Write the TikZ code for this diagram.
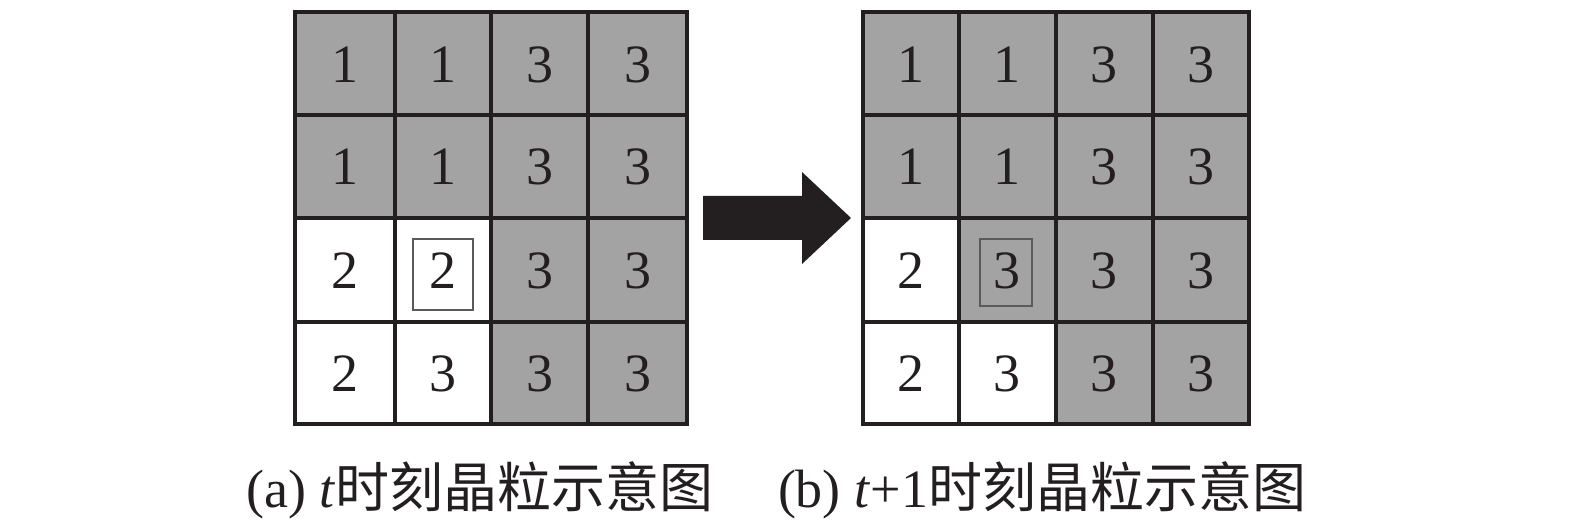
\documentclass[tikz,border=0pt]{standalone}
\usepackage{fontspec}
\setmainfont{Liberation Serif}
\newfontfamily\cjk{Noto Sans CJK SC}
\definecolor{ink}{HTML}{231F20}
\definecolor{grain}{HTML}{A3A3A3}
\definecolor{boxline}{HTML}{5A5A5A}
\tikzset{
  gridline/.style={draw=ink, line width=2pt},
  outerline/.style={draw=ink, line width=2.2pt},
  digit/.style={text=ink, font=\fontsize{27}{30}\selectfont, inner sep=0pt},
  caption/.style={text=ink, font=\fontsize{27}{30}\selectfont, anchor=base, inner sep=0pt},
  markbox/.style={draw=boxline, line width=0.8pt},
  bigarrow/.style={fill=ink, draw=none},
}
\begin{document}
\begin{tikzpicture}[x=0.5pt, y=-0.5pt]
\useasboundingbox (0,0) rectangle (1575,528);
% ---------- grid (a) ----------
\def\ax{{295,395,491,588,687}}
% fills
\fill[grain] (295,12) rectangle (687,218);
\fill[grain] (491,218) rectangle (687,424);
% small marker square (a)
\draw[markbox] (413,239) rectangle (473,310);
% lines
\draw[gridline] (395,12) -- (395,424) (491,12) -- (491,424) (588,12) -- (588,424);
\draw[gridline] (295,115) -- (687,115) (295,218) -- (687,218) (295,322) -- (687,322);
\draw[outerline] (295,12) rectangle (687,424);
% digits (a)
\node[digit] (a11) at (345,65) {1};
\node[digit] (a12) at (443,65) {1};
\node[digit] (a13) at (540,65) {3};
\node[digit] (a14) at (638,65) {3};
\node[digit] (a21) at (345,167) {1};
\node[digit] (a22) at (443,167) {1};
\node[digit] (a23) at (540,167) {3};
\node[digit] (a24) at (638,167) {3};
\node[digit] (a31) at (345,271) {2};
\node[digit] (a32) at (443,271) {2};
\node[digit] (a33) at (540,271) {3};
\node[digit] (a34) at (638,271) {3};
\node[digit] (a41) at (345,374) {2};
\node[digit] (a42) at (443,374) {3};
\node[digit] (a43) at (540,374) {3};
\node[digit] (a44) at (638,374) {3};
% ---------- arrow ----------
\fill[bigarrow] (703,196) -- (802,196) -- (802,172) -- (851,218) -- (802,264) -- (802,240) -- (703,240) -- cycle;
% ---------- grid (b) ----------
\fill[grain] (863,12) rectangle (1249,218);
\fill[grain] (959,218) rectangle (1249,322);
\fill[grain] (1056,322) rectangle (1249,424);
\draw[markbox] (980,239) rectangle (1032,306);
\draw[gridline] (959,12) -- (959,424) (1056,12) -- (1056,424) (1153,12) -- (1153,424);
\draw[gridline] (863,115) -- (1249,115) (863,218) -- (1249,218) (863,322) -- (1249,322);
\draw[outerline] (863,12) rectangle (1249,424);
\node[digit] (b11) at (911,65) {1};
\node[digit] (b12) at (1007,65) {1};
\node[digit] (b13) at (1104,65) {3};
\node[digit] (b14) at (1201,65) {3};
\node[digit] (b21) at (911,167) {1};
\node[digit] (b22) at (1007,167) {1};
\node[digit] (b23) at (1104,167) {3};
\node[digit] (b24) at (1201,167) {3};
\node[digit] (b31) at (911,271) {2};
\node[digit] (b32) at (1007,271) {3};
\node[digit] (b33) at (1104,271) {3};
\node[digit] (b34) at (1201,271) {3};
\node[digit] (b41) at (911,374) {2};
\node[digit] (b42) at (1007,374) {3};
\node[digit] (b43) at (1104,374) {3};
\node[digit] (b44) at (1201,374) {3};
% ---------- captions ----------
\node[caption] (capa) at (480,508) {(a) \textit{t}{\cjk 时刻晶粒示意图}};
\node[caption] (capb) at (1042,508) {(b) \textit{t}+1{\cjk 时刻晶粒示意图}};
\end{tikzpicture}
\end{document}
